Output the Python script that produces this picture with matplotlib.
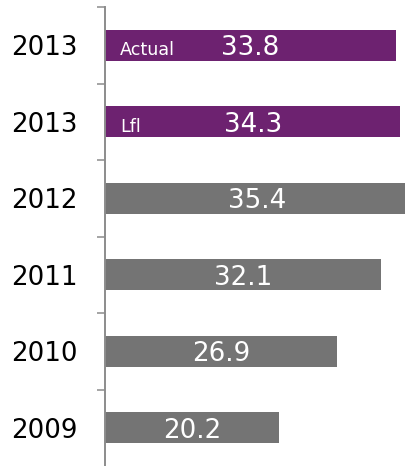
import matplotlib
matplotlib.use("Agg")
import matplotlib.pyplot as plt

# Net margin by year (top to bottom)
years = ["2013", "2013", "2012", "2011", "2010", "2009"]
values = [33.8, 34.3, 35.4, 32.1, 26.9, 20.2]
tags = ["Actual", "Lfl", "", "", "", ""]
colors = ["#6d2270", "#6d2270", "#747474", "#747474", "#747474", "#747474"]

W, H = 406, 466
fig = plt.figure(figsize=(W / 100, H / 100), dpi=100)
ax = fig.add_axes([105 / W, 0, 301 / W, 459 / H])

pos = list(range(len(values)))
ax.barh(pos, values, height=0.4, color=colors, zorder=2)

ax.set_ylim(len(values) - 0.5, -0.5)
ax.set_xlim(0, 34.96)

for i, (v, t) in enumerate(zip(values, tags)):
    ax.annotate(f"{v:.1f}", xy=(v / 2, i), xytext=(0, -7.3),
                textcoords="offset points", ha="center", va="baseline",
                color="white", fontsize=18.8, zorder=3)
    if t:
        ax.annotate(t, xy=(0, i), xytext=(11, -7.3),
                    textcoords="offset points", ha="left", va="baseline",
                    color="white", fontsize=12.6, zorder=3)

# Boundary ticks between categories, labels at category centers
ax.set_yticks([p - 0.5 for p in pos])
ax.set_yticklabels([])
ax.tick_params(axis="y", which="major", direction="out", length=5.8,
               width=1.1, color="#8c8c8c")
ax.set_yticks(pos, minor=True)
ax.set_yticklabels(years, minor=True, fontsize=18.8, color="black")
ax.tick_params(axis="y", which="minor", length=0, pad=19.5)

ax.set_xticks([])
for s in ["top", "right", "bottom"]:
    ax.spines[s].set_visible(False)
ax.spines["left"].set_color("#8c8c8c")
ax.spines["left"].set_linewidth(1.4)
ax.patch.set_alpha(0)

fig.savefig("out.png", dpi=100)
